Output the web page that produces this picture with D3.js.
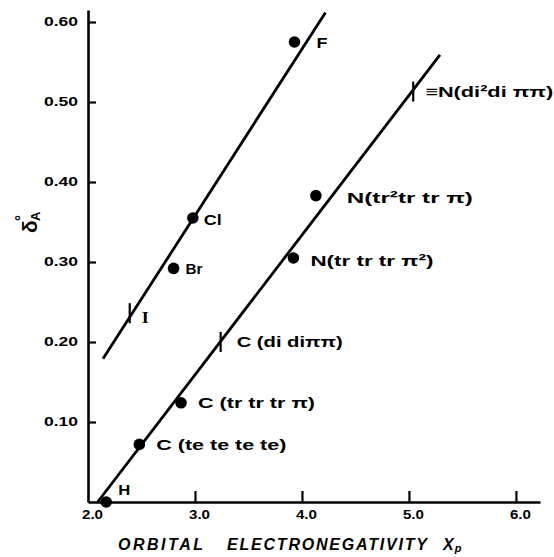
<!DOCTYPE html>
<html><head><meta charset="utf-8">
<script src="https://cdn.jsdelivr.net/npm/d3@7"></script>
<style>
body{margin:0;background:#fff;}
svg text{font-family:"Liberation Sans",Arial,Helvetica,sans-serif;font-weight:bold;fill:#000;}
</style></head>
<body><svg id="c" width="554" height="557"></svg>
<script>
// ---- data ----
const xTicks = [2, 3, 4, 5, 6];
const xTickLabels = ["2.0", "3.0", "4.0", "5.0", "6.0"];
const yTicks = [0.1, 0.2, 0.3, 0.4, 0.5, 0.6];
const yTickLabels = ["0.10", "0.20", "0.30", "0.40", "0.50", "0.60"];

const halogenNames = ["F", "Cl", "Br", "I"];
const halogenX = [3.93, 2.98, 2.80, 2.39];
const halogenY = [0.575, 0.355, 0.292, 0.236];
const halogenMarker = ["dot", "dot", "dot", "bar"];

const hybridNames = ["H", "C (te te te te)", "C (tr tr tr \u03C0)", "C (di di\u03C0\u03C0)",
  "N(tr tr  tr \u03C0\u00B2)", "N(tr\u00B2tr  tr \u03C0)", "\u2261N(di\u00B2di \u03C0\u03C0)"];
const hybridX = [2.17, 2.48, 2.87, 3.24, 3.92, 4.13, 5.04];
const hybridY = [0.0, 0.072, 0.124, 0.20, 0.305, 0.383, 0.513];
const hybridMarker = ["dot", "dot", "dot", "bar", "dot", "dot", "bar"];

const halogenLineX = [2.14, 4.22];
const halogenLineY = [0.179, 0.612];
const hybridLineX = [2.09, 5.29];
const hybridLineY = [0.0, 0.559];

// ---- layout (label offsets in px, text widths) ----
const halogenLabelLayout = [[22, 6, 11], [11, 7, 18], [12, 6, 17], [12, 10, 7]];
const hybridLabelLayout = [[12, -7, 12], [17, 6, 130], [17, 5, 117], [16, 5, 106],
  [17, 8, 123], [31, 7, 126], [12, 5, 128]];

const svg = d3.select("#c");
const x = d3.scaleLinear().domain([2, 6.225]).range([88, 540]);
const y = d3.scaleLinear().domain([0, 0.615]).range([502, 10]);

// axes
const xAxis = d3.axisBottom(x).tickValues(xTicks).tickFormat((d, i) => xTickLabels[i])
  .tickSizeInner(-11).tickSizeOuter(0).tickPadding(10);
const gx = svg.append("g").attr("transform", "translate(0,502)").call(xAxis);
gx.select(".domain").attr("stroke", "#000").attr("stroke-width", 2.6);
gx.selectAll(".tick line").attr("stroke", "#000").attr("stroke-width", 2.2)
  .filter(d => d === 2).remove();
gx.selectAll(".tick text").attr("font-size", 12).attr("dx", 4).attr("dy", "0.6em")
  .attr("textLength", 21).attr("lengthAdjust", "spacingAndGlyphs");

const yAxis = d3.axisLeft(y).tickValues(yTicks).tickFormat((d, i) => yTickLabels[i])
  .tickSizeInner(-8).tickSizeOuter(0).tickPadding(10);
const gy = svg.append("g").attr("transform", "translate(88,0)").call(yAxis);
gy.select(".domain").attr("stroke", "#000").attr("stroke-width", 2.6);
gy.selectAll(".tick line").attr("stroke", "#000").attr("stroke-width", 2.2);
gy.selectAll(".tick text").attr("font-size", 12)
  .attr("textLength", 34).attr("lengthAdjust", "spacingAndGlyphs");
svg.selectAll(".domain").attr("fill", "none");

// fit lines
const line = d3.line().x(d => x(d[0])).y(d => y(d[1]));
svg.append("path").datum(halogenLineX.map((v, i) => [v, halogenLineY[i]]))
  .attr("d", line).attr("stroke", "#000").attr("stroke-width", 2.8).attr("fill", "none");
svg.append("path").datum(hybridLineX.map((v, i) => [v, hybridLineY[i]]))
  .attr("d", line).attr("stroke", "#000").attr("stroke-width", 2.8).attr("fill", "none");

function drawSeries(names, xs, ys, markers, layout, serifName) {
  const data = names.map((n, i) => ({n, x: xs[i], y: ys[i], m: markers[i], l: layout[i]}));
  const g = svg.append("g");
  g.selectAll("circle").data(data.filter(d => d.m === "dot")).join("circle")
    .attr("cx", d => x(d.x)).attr("cy", d => y(d.y)).attr("r", 5.8).attr("fill", "#000");
  g.selectAll("line").data(data.filter(d => d.m === "bar")).join("line")
    .attr("x1", d => x(d.x)).attr("x2", d => x(d.x))
    .attr("y1", d => y(d.y) - 10).attr("y2", d => y(d.y) + 10)
    .attr("stroke", "#000").attr("stroke-width", 2.2);
  g.selectAll("text").data(data).join("text")
    .attr("x", d => x(d.x) + d.l[0]).attr("y", d => y(d.y) + d.l[1])
    .attr("font-size", d => d.n === serifName ? 17 : 15.5)
    .attr("textLength", d => d.l[2]).attr("lengthAdjust", "spacingAndGlyphs")
    .style("font-family", d => d.n === serifName ? "'Liberation Serif',serif" : null)
    .text(d => d.n);
}
drawSeries(halogenNames, halogenX, halogenY, halogenMarker, halogenLabelLayout, "I");
drawSeries(hybridNames, hybridX, hybridY, hybridMarker, hybridLabelLayout, null);

// axis titles
const xt = svg.append("g");
xt.append("text").attr("x", 118).attr("y", 550).attr("font-size", 16).attr("font-style", "italic")
  .attr("textLength", 85).attr("lengthAdjust", "spacing").text("ORBITAL");
xt.append("text").attr("x", 227).attr("y", 550).attr("font-size", 16).attr("font-style", "italic")
  .attr("textLength", 200).attr("lengthAdjust", "spacing").text("ELECTRONEGATIVITY");
const xx = xt.append("text").attr("x", 443).attr("y", 550).attr("font-size", 16).attr("font-style", "italic");
xx.append("tspan").text("X");
xx.append("tspan").attr("font-size", 11).attr("dy", 2).attr("dx", 1).text("p");

const yt = svg.append("g").attr("transform", "translate(37,233) rotate(-90)");
yt.append("text").attr("x", 0).attr("y", 0).attr("font-size", 21).text("\u03B4");
yt.append("text").attr("x", 12).attr("y", 3).attr("font-size", 13).text("A");
yt.append("text").attr("x", 12).attr("y", -11).attr("font-size", 15).text("\u00B0");
</script></body></html>
